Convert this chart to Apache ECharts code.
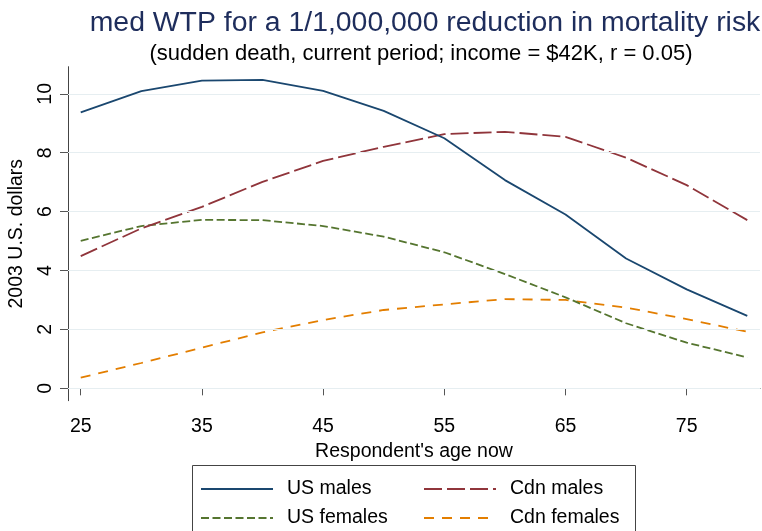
<!DOCTYPE html>
<html>
<head>
<meta charset="utf-8">
<script src="https://cdn.jsdelivr.net/npm/echarts@6/dist/echarts.min.js"></script>
<style>html,body{margin:0;padding:0;background:#fff}#c{width:762px;height:531px}</style>
</head>
<body>
<div id="c"></div>
<script>
var ages = [25, 30, 35, 40, 45, 50, 55, 60, 65, 70, 75, 80];
var usMales = [9.37, 10.09, 10.45, 10.47, 10.10, 9.42, 8.49, 7.07, 5.90, 4.41, 3.36, 2.46];
var cdnMales = [4.49, 5.43, 6.16, 7.01, 7.72, 8.20, 8.63, 8.71, 8.54, 7.83, 6.90, 5.71];
var usFemales = [5.01, 5.51, 5.72, 5.71, 5.51, 5.15, 4.62, 3.88, 3.09, 2.21, 1.55, 1.05];
var cdnFemales = [0.36, 0.86, 1.38, 1.90, 2.32, 2.66, 2.85, 3.03, 3.00, 2.74, 2.35, 1.92];
var xTicks = [25, 35, 45, 55, 65, 75];
var yTicks = [0, 2, 4, 6, 8, 10];
var legendNames = ['US males', 'Cdn males', 'US females', 'Cdn females'];

var FONT = "'Liberation Sans', Arial, Helvetica, sans-serif";
function pairs(vals) { return ages.map(function (a, i) { return [a, vals[i]]; }); }

var legendLeft = [200, 423, 200, 423];
var legendTop = [479, 479, 508, 508];
var legends = legendNames.map(function (n, i) {
  return {
    data: [n], left: legendLeft[i], top: legendTop[i], padding: 0,
    itemWidth: 72, itemHeight: 14, itemStyle: { opacity: 0 },
    textStyle: { fontFamily: FONT, fontSize: 19.5, color: '#000', padding: [0, 0, 0, 9] }
  };
});

var chart = echarts.init(document.getElementById('c'), null, { renderer: 'canvas' });
chart.setOption({
  animation: false,
  backgroundColor: '#fff',
  title: [
    { text: 'med WTP for a 1/1,000,000 reduction in mortality risk', left: 420, top: 4, textAlign: 'center',
      textStyle: { fontFamily: FONT, fontSize: 28.4, fontWeight: 'normal', color: '#1e2d5c' } },
    { text: '(sudden death, current period; income = $42K, r = 0.05)', left: 416, top: 38, textAlign: 'center',
      textStyle: { fontFamily: FONT, fontSize: 22, fontWeight: 'normal', color: '#000' } }
  ],
  grid: { left: 68, right: 2, top: 66.7, bottom: 130.3, outerBoundsMode: 'none', containLabel: false },
  xAxis: {
    type: 'value', min: 23.95, max: 81.05,
    name: "Respondent's age now", nameLocation: 'middle', nameGap: 41,
    nameTextStyle: { fontFamily: FONT, fontSize: 19.5, color: '#000' },
    axisLine: { show: true, lineStyle: { color: '#444', width: 1 } },
    axisTick: { show: true, length: 7, customValues: xTicks, lineStyle: { color: '#555' } },
    axisLabel: { customValues: xTicks, margin: 16, fontFamily: FONT, fontSize: 19.5, color: '#000' },
    splitLine: { show: false }
  },
  yAxis: {
    type: 'value', min: -0.42, max: 10.92,
    name: '2003 U.S. dollars', nameLocation: 'middle', nameGap: 41, nameRotate: 90,
    nameTextStyle: { fontFamily: FONT, fontSize: 19.5, color: '#000' },
    axisLine: { show: true, lineStyle: { color: '#444', width: 1 } },
    axisTick: { show: true, length: 8, customValues: yTicks, lineStyle: { color: '#555' } },
    axisLabel: { customValues: yTicks, rotate: 90, margin: 12, fontFamily: FONT, fontSize: 19.5, color: '#000' },
    splitLine: { show: false }
  },
  legend: legends,
  graphic: [
    { type: 'rect', shape: { x: 192.5, y: 465.5, width: 443, height: 80 }, style: { fill: 'none', stroke: '#444', lineWidth: 1 }, silent: true }
  ],
  series: [
    { name: 'US males', type: 'line', data: pairs(usMales), symbol: 'none', color: '#1a476f',
      lineStyle: { width: 1.8, color: '#1a476f', type: 'solid' },
      markLine: { silent: true, symbol: 'none', label: { show: false },
        lineStyle: { color: '#e6eef1', width: 1.2, type: 'solid' },
        data: yTicks.map(function (v) { return { yAxis: v }; }) }, z: 5 },
    { name: 'Cdn males', type: 'line', data: pairs(cdnMales), symbol: 'none', color: '#90353b',
      lineStyle: { width: 1.8, color: '#90353b', type: [18, 5] }, z: 4 },
    { name: 'US females', type: 'line', data: pairs(usFemales), symbol: 'none', color: '#55752f',
      lineStyle: { width: 1.8, color: '#55752f', type: [8, 3.5] }, z: 3 },
    { name: 'Cdn females', type: 'line', data: pairs(cdnFemales), symbol: 'none', color: '#e37e00',
      lineStyle: { width: 1.8, color: '#e37e00', type: [10, 8] }, z: 2 }
  ]
});
</script>
</body>
</html>
